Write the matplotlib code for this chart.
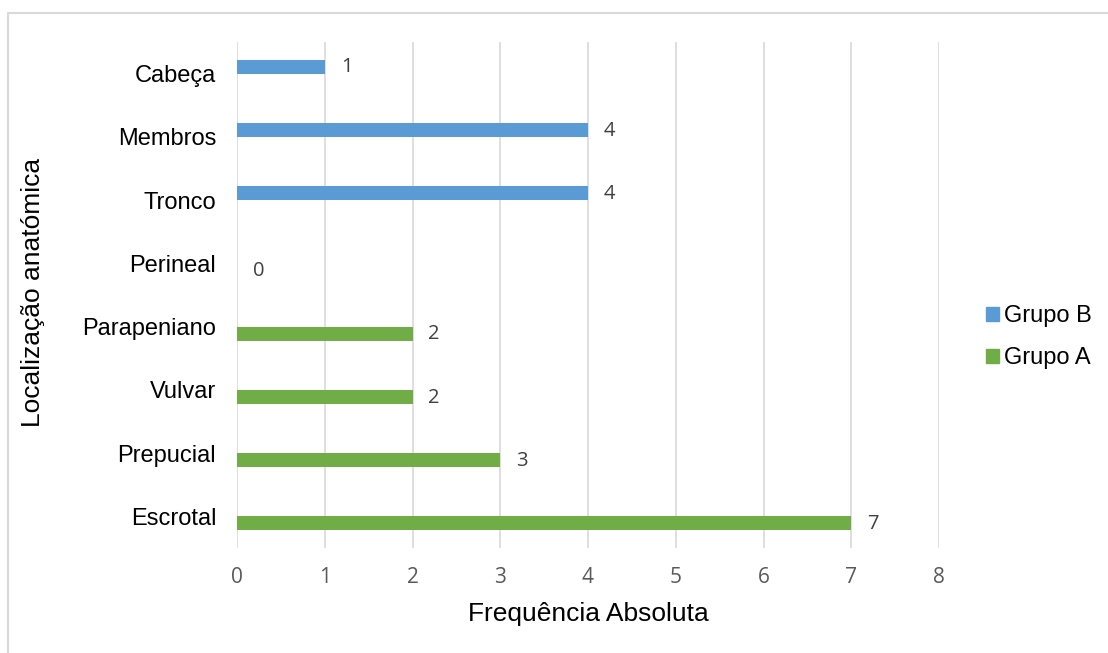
import matplotlib

matplotlib.use("Agg")
import matplotlib.pyplot as plt
from matplotlib.patches import Patch, Rectangle
import numpy as np

# Data
categorias = ["Escrotal", "Prepucial", "Vulvar", "Parapeniano",
              "Perineal", "Tronco", "Membros", "Cabeça"]
grupo_a = [7, 3, 2, 2, 0, None, None, None]
grupo_b = [None, None, None, None, None, 4, 4, 1]
x_ticks = [0, 1, 2, 3, 4, 5, 6, 7, 8]

BLUE = "#5B9BD5"
GREEN = "#70AD47"
GRID = "#D9D9D9"
ARIAL = "Liberation Sans"
NUM_FONT = ["Liberation Sans Narrow", "Open Sans"]

W, H, DPI = 1108, 653, 100
fig = plt.figure(figsize=(W / DPI, H / DPI), dpi=DPI)

# light frame around the chart area
fig.patches.append(Rectangle((8 / W, -0.2), 1.2, 1 - 13 / H + 0.2,
                             transform=fig.transFigure, fill=False,
                             ec=GRID, lw=1.5, zorder=0))

ax = fig.add_axes([237 / W, 1 - 548 / H, (939 - 237) / W, (548 - 42) / H])

y = np.arange(len(categorias))
h = 14 / 63.25

for i, v in enumerate(grupo_a):
    if v is None:
        continue
    ax.barh(y[i] - h / 2, v, height=h, color=GREEN, zorder=3)
    ax.annotate(str(v), (v, y[i] - h / 2), xytext=(11.5, -0.5),
                textcoords="offset points", ha="left", va="center",
                fontsize=14.5, color="#404040", family="Open Sans")
for i, v in enumerate(grupo_b):
    if v is None:
        continue
    ax.barh(y[i] + h / 2, v, height=h, color=BLUE, zorder=3)
    ax.annotate(str(v), (v, y[i] + h / 2), xytext=(11.5, -0.5),
                textcoords="offset points", ha="left", va="center",
                fontsize=14.5, color="#404040", family="Open Sans")

ax.set_xlim(0, 8)
ax.set_ylim(-0.5, len(categorias) - 0.5)
ax.set_xticks(x_ticks)
ax.set_xticklabels([str(t) for t in x_ticks], family=NUM_FONT,
                   fontsize=15, color="#595959")
ax.set_yticks(y)
ax.set_yticklabels(categorias, family=ARIAL, fontsize=17, color="black")
ax.tick_params(axis="both", length=0)
ax.tick_params(axis="x", pad=14)
ax.tick_params(axis="y", pad=15)
ax.grid(axis="x", color=GRID, lw=1.2, zorder=0)
ax.set_axisbelow(True)
for s in ax.spines.values():
    s.set_visible(False)

fig.text(588 / W, 1 - 614 / H, "Frequência Absoluta", ha="center",
         va="center", fontsize=19, family=ARIAL)
fig.text(33 / W, 1 - 292 / H, "Localização anatómica", ha="center",
         va="center", rotation=90, fontsize=19, family=ARIAL)

handles = [Patch(color=BLUE, label="Grupo B"), Patch(color=GREEN, label="Grupo A")]
fig.legend(handles=handles, loc="center left",
           bbox_to_anchor=(965 / W, 1 - 337 / H), frameon=False,
           prop={"family": ARIAL, "size": 17}, handlelength=0.55,
           handleheight=0.55, handletextpad=0.2, labelspacing=0.85)

fig.savefig("out.png", dpi=DPI)
